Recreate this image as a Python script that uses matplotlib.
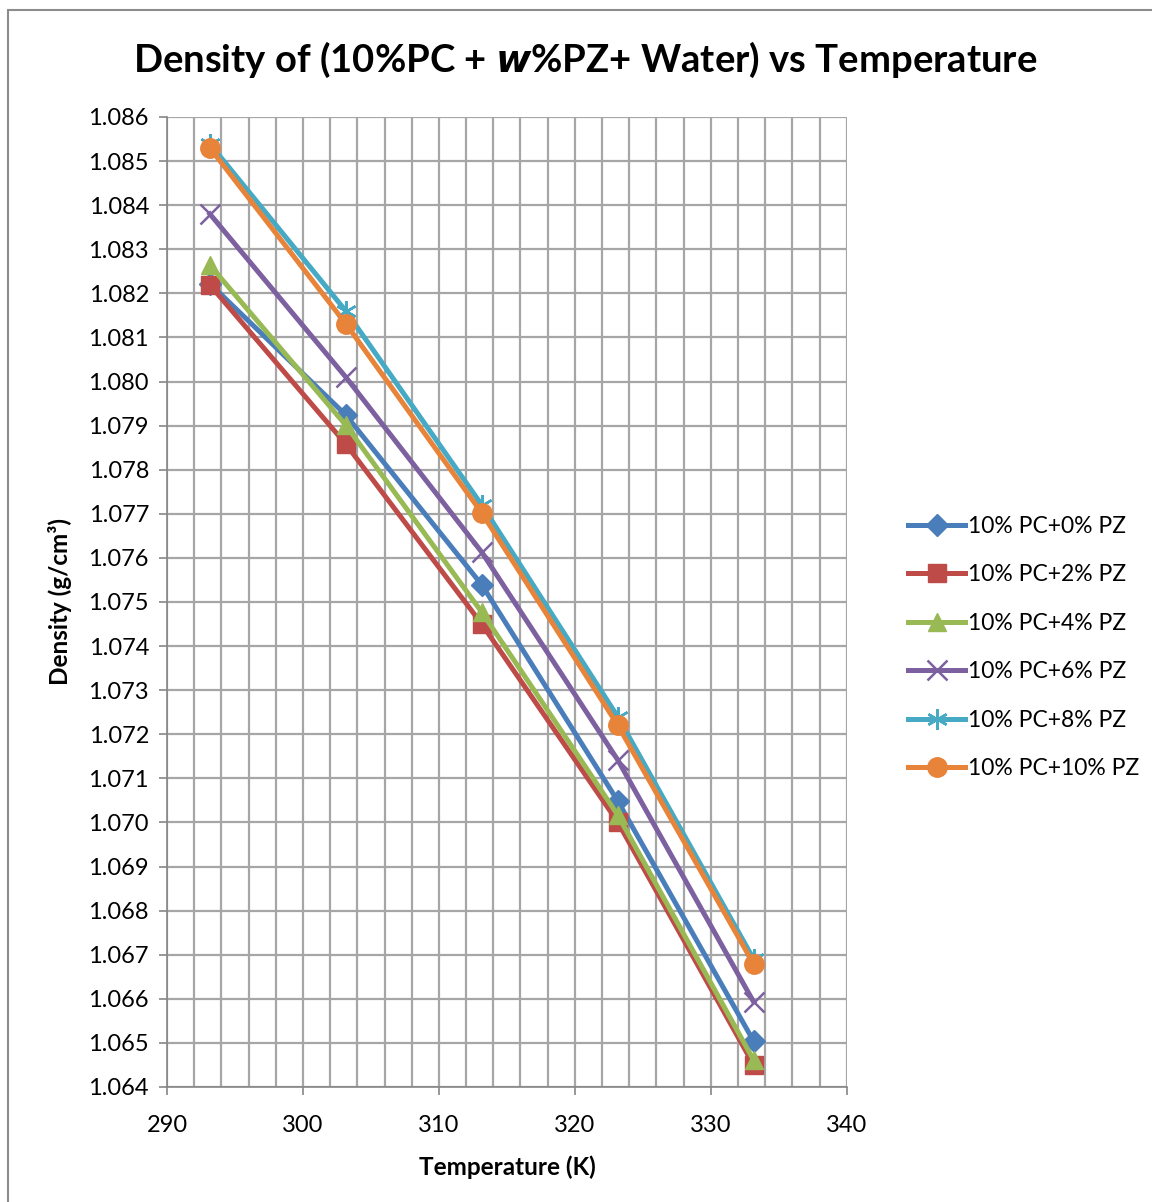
import matplotlib
matplotlib.use('Agg')
import matplotlib.pyplot as plt
from matplotlib.patches import Rectangle
from matplotlib.ticker import MultipleLocator, FormatStrFormatter

plt.rcParams['font.family'] = ['Lato', 'DejaVu Sans']

# Temperature (K)
temps = [293.15, 303.15, 313.15, 323.15, 333.15]

# Density (g/cm3) per blend
pz0 = [1.08222, 1.07924, 1.07539, 1.07049, 1.06504]
pz2 = [1.08219, 1.07858, 1.07450, 1.07001, 1.06450]
pz4 = [1.08264, 1.07901, 1.07477, 1.07017, 1.06461]
pz6 = [1.08380, 1.08010, 1.07613, 1.07142, 1.06593]
pz8 = [1.08539, 1.08160, 1.07720, 1.07240, 1.06690]
pz10 = [1.08530, 1.08131, 1.07702, 1.07221, 1.06679]

labels = ['10% PC+0% PZ', '10% PC+2% PZ', '10% PC+4% PZ',
          '10% PC+6% PZ', '10% PC+8% PZ', '10% PC+10% PZ']

fig = plt.figure(figsize=(11.52, 12.02), dpi=100)
ax = fig.add_axes([0.145, 0.0957, 0.590, 0.807])

# outer chart border
fig.patches.append(Rectangle((8 / 1152, -0.01), 1.2, 1 - 10 / 1202 + 0.01,
                             transform=fig.transFigure, fill=False,
                             edgecolor='#8c8c8c', linewidth=1.5))

lw = 3.6
ax.plot(temps, pz0, '-D', color='#4A7EBB', lw=lw, ms=11, label=labels[0], zorder=3)
ax.plot(temps, pz2, '-s', color='#BE4B48', lw=lw, ms=13, label=labels[1], zorder=3)
ax.plot(temps, pz4, '-^', color='#98B954', lw=lw, ms=13, label=labels[2], zorder=3)
ax.plot(temps, pz6, '-x', color='#7D60A0', lw=lw, ms=15, mew=1.8, label=labels[3], zorder=3)
ax.plot(temps, pz8, '-', color='#46AAC5', lw=lw, marker=(6, 2, 0), ms=15, mew=1.8,
        label=labels[4], zorder=3)
ax.plot(temps, pz10, '-o', color='#E8833A', lw=lw, ms=14, label=labels[5], zorder=3)

ax.set_xlim(290, 340)
ax.set_ylim(1.064, 1.086)
ax.xaxis.set_major_locator(MultipleLocator(10))
ax.xaxis.set_minor_locator(MultipleLocator(2))
ax.yaxis.set_major_locator(MultipleLocator(0.001))
ax.yaxis.set_major_formatter(FormatStrFormatter('%.3f'))
ax.grid(True, which='both', color='#a6a6a6', lw=1.6)
ax.set_axisbelow(True)
ax.tick_params(which='major', direction='out', length=6, width=1.2,
               color='#868686', labelsize=17, pad=7)
ax.tick_params(axis='x', which='major', pad=14)
ax.tick_params(which='minor', length=0)
for s in ['top', 'right']:
    ax.spines[s].set_visible(False)
for s in ['left', 'bottom']:
    ax.spines[s].set_color('#868686')
    ax.spines[s].set_linewidth(1.2)

ax.set_xlabel('Temperature (K)', fontsize=17.5, fontweight='bold', labelpad=14)
ax.set_ylabel('Density (g/cm³)', fontsize=17.5, fontweight='bold', labelpad=12)
fig.text(0.508, 0.950, 'Density of (10%PC + $\\boldsymbol{w}$%PZ+ Water) vs Temperature',
         ha='center', va='center', fontsize=27.5, fontweight='bold')

ax.legend(loc='center left', bbox_to_anchor=(1.06, 0.453), frameon=False,
          fontsize=16.5, handlelength=2.5, labelspacing=1.2, handletextpad=0.1)

fig.savefig('out.png', dpi=100, facecolor='white')
